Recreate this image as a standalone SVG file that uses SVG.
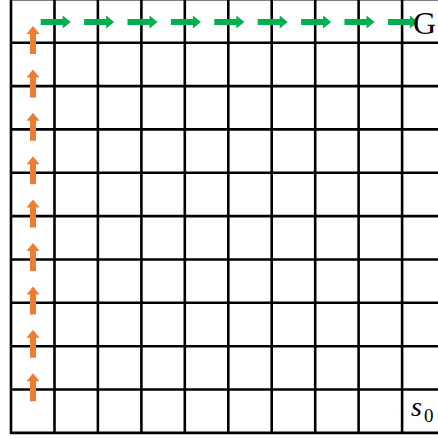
<svg xmlns="http://www.w3.org/2000/svg" width="438" height="438" viewBox="0 0 438 438">
  <style>
    .grid line { stroke: #000; stroke-width: 2.6; }
    .g { fill: #00B050; }
    .o { fill: #ED7D31; }
    .lbl { font-family: "Liberation Serif", "Times New Roman", serif; fill: #000; }
  </style>
  <defs>
    <path id="arr" d="M-30,-3 H-8 V-6.5 L0,0 L-8,6.5 V3 H-30 Z"/>
    <path id="arrUp" d="M-3,28 V8 H-6.5 L0,0 L6.5,8 H3 V28 Z"/>
  </defs>
  <rect width="438" height="438" fill="#fff"/>
  <g id="grid" class="grid">
    <line x1="11" y1="-1" x2="11" y2="434"/>
    <line x1="54.5" y1="-1" x2="54.5" y2="434"/>
    <line x1="97.9" y1="-1" x2="97.9" y2="434"/>
    <line x1="141.4" y1="-1" x2="141.4" y2="434"/>
    <line x1="184.8" y1="-1" x2="184.8" y2="434"/>
    <line x1="228.3" y1="-1" x2="228.3" y2="434"/>
    <line x1="271.7" y1="-1" x2="271.7" y2="434"/>
    <line x1="315.2" y1="-1" x2="315.2" y2="434"/>
    <line x1="358.6" y1="-1" x2="358.6" y2="434"/>
    <line x1="402.1" y1="-1" x2="402.1" y2="434"/>
    <line x1="10" y1="-0.7" x2="440" y2="-0.7"/>
    <line x1="10" y1="42.7" x2="440" y2="42.7"/>
    <line x1="10" y1="86.1" x2="440" y2="86.1"/>
    <line x1="10" y1="129.4" x2="440" y2="129.4"/>
    <line x1="10" y1="172.8" x2="440" y2="172.8"/>
    <line x1="10" y1="216.1" x2="440" y2="216.1"/>
    <line x1="10" y1="259.5" x2="440" y2="259.5"/>
    <line x1="10" y1="302.8" x2="440" y2="302.8"/>
    <line x1="10" y1="346.2" x2="440" y2="346.2"/>
    <line x1="10" y1="389.5" x2="440" y2="389.5"/>
    <line x1="10" y1="432.9" x2="440" y2="432.9"/>
  </g>
  <g id="connectors">
    <g id="up-arrows" class="o">
      <use href="#arrUp" x="33" y="26"/>
      <use href="#arrUp" x="33" y="69.4"/>
      <use href="#arrUp" x="33" y="112.8"/>
      <use href="#arrUp" x="33" y="156.2"/>
      <use href="#arrUp" x="33" y="199.6"/>
      <use href="#arrUp" x="33" y="243"/>
      <use href="#arrUp" x="33" y="286.4"/>
      <use href="#arrUp" x="33" y="329.8"/>
      <use href="#arrUp" x="33" y="373.2"/>
    </g>
    <g id="right-arrows" class="g">
      <use href="#arr" x="70.7" y="22"/>
      <use href="#arr" x="114.1" y="22"/>
      <use href="#arr" x="157.5" y="22"/>
      <use href="#arr" x="200.9" y="22"/>
      <use href="#arr" x="244.3" y="22"/>
      <use href="#arr" x="287.7" y="22"/>
      <use href="#arr" x="331.1" y="22"/>
      <use href="#arr" x="374.5" y="22"/>
      <use href="#arr" x="417.9" y="22"/>
    </g>
  </g>
  <g id="goal">
    <text class="lbl" x="413" y="34" font-size="32">G</text>
  </g>
  <g id="start">
    <text class="lbl" x="411" y="415.7" font-size="28"><tspan font-style="italic">s</tspan><tspan font-size="19" dx="2" dy="5.8">0</tspan></text>
  </g>
</svg>
